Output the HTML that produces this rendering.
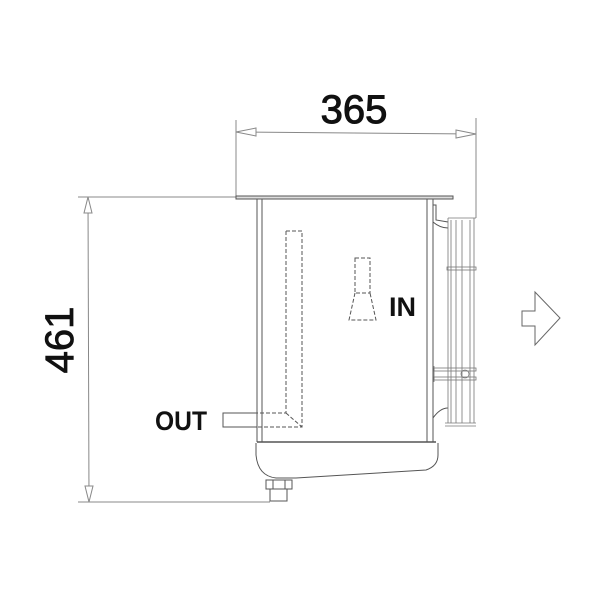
<!DOCTYPE html>
<html><head><meta charset="utf-8"><style>
html,body{margin:0;padding:0;background:#fff}
svg{display:block}
text{font-family:"Liberation Sans",sans-serif;font-weight:bold;fill:#111}
</style></head><body>
<svg width="600" height="600" viewBox="0 0 600 600" xmlns="http://www.w3.org/2000/svg">
<g fill="none" stroke="#888" stroke-width="1">
 <line x1="236" y1="120" x2="236" y2="198"/>
 <line x1="476" y1="118" x2="476" y2="218"/>
 <line x1="236" y1="132" x2="476" y2="134"/>
 <polygon points="236,132 256,128 256,136" fill="#fff"/>
 <polygon points="476,134 456,130 456,138" fill="#fff"/>
 <line x1="78" y1="197" x2="256" y2="197"/>
 <line x1="78" y1="502" x2="270" y2="502"/>
 <line x1="88" y1="197" x2="89" y2="502"/>
 <polygon points="88,197 84,213 92,213" fill="#fff"/>
 <polygon points="89,502 85,486 93,486" fill="#fff"/>
</g>
<g fill="none" stroke="#555" stroke-width="1">
 <rect x="236" y="196" width="217" height="3" fill="#ddd"/>
 <line x1="257" y1="199" x2="257" y2="442"/>
 <line x1="262" y1="199" x2="262" y2="442"/>
 <line x1="427" y1="199" x2="427" y2="442"/>
 <line x1="433" y1="199" x2="433" y2="442"/>
 <line x1="257" y1="442" x2="436" y2="442" stroke-width="1.5"/>
 <path d="M256,443 L256,455 Q258,476 276,478 L296,478 L426,470 Q438,466 438,455 L438,443"/>
 <rect x="266" y="480" width="26" height="9"/>
 <rect x="270" y="489" width="17" height="12"/>
 <line x1="273" y1="480" x2="273" y2="489"/>
 <line x1="285" y1="480" x2="285" y2="489"/>
 <rect x="223" y="413" width="34" height="14"/>
 <g stroke-dasharray="4,2">
  <path d="M286,231 L302,231 L302,427 L257,427"/>
  <path d="M286,231 L286,413 L257,413"/>
  <line x1="286" y1="413" x2="302" y2="427"/>
  <rect x="355" y="258" width="15" height="35"/>
  <path d="M355,293 L349,320 L376,320 L370,293"/>
 </g>
 <path d="M433,205 L436,205 L436,220 L448,222"/>
 <path d="M433,222 Q440,228 448,228"/>
 <path d="M433,418 Q440,408 448,408"/>
</g>
<g fill="none" stroke="#777" stroke-width="0.8">
 <line x1="448" y1="218" x2="476" y2="218"/>
 <line x1="445" y1="423" x2="476" y2="423"/>
 <line x1="445" y1="426" x2="476" y2="426"/>
 <line x1="448" y1="218" x2="448" y2="423"/>
 <line x1="451" y1="220" x2="451" y2="423"/>
 <line x1="456" y1="220" x2="456" y2="423"/>
 <line x1="462" y1="220" x2="462" y2="423"/>
 <line x1="470" y1="220" x2="470" y2="423"/>
 <line x1="474" y1="218" x2="474" y2="423"/>
 <rect x="447" y="267" width="29" height="3"/>
 <rect x="434" y="368" width="42" height="3"/>
 <rect x="434" y="377" width="42" height="3"/>
 <circle cx="465" cy="374" r="4"/>
 <line x1="434" y1="366" x2="434" y2="382"/>
</g>
<polygon points="522,311 535,311 535,292 560,318 535,345 535,326 522,326" fill="#fff" stroke="#666" stroke-width="1"/>
<text x="354" y="123" font-size="40" text-anchor="middle" style="font-weight:normal" stroke="#111" stroke-width="1">365</text>
<text transform="translate(73,340) rotate(-90)" font-size="40" text-anchor="middle" stroke="#111" stroke-width="0.8" style="font-weight:normal">461</text>
<text x="389" y="316" font-size="27" textLength="27" lengthAdjust="spacingAndGlyphs">IN</text>
<text x="155" y="430" font-size="27" textLength="52" lengthAdjust="spacingAndGlyphs">OUT</text>
</svg>
</body></html>
